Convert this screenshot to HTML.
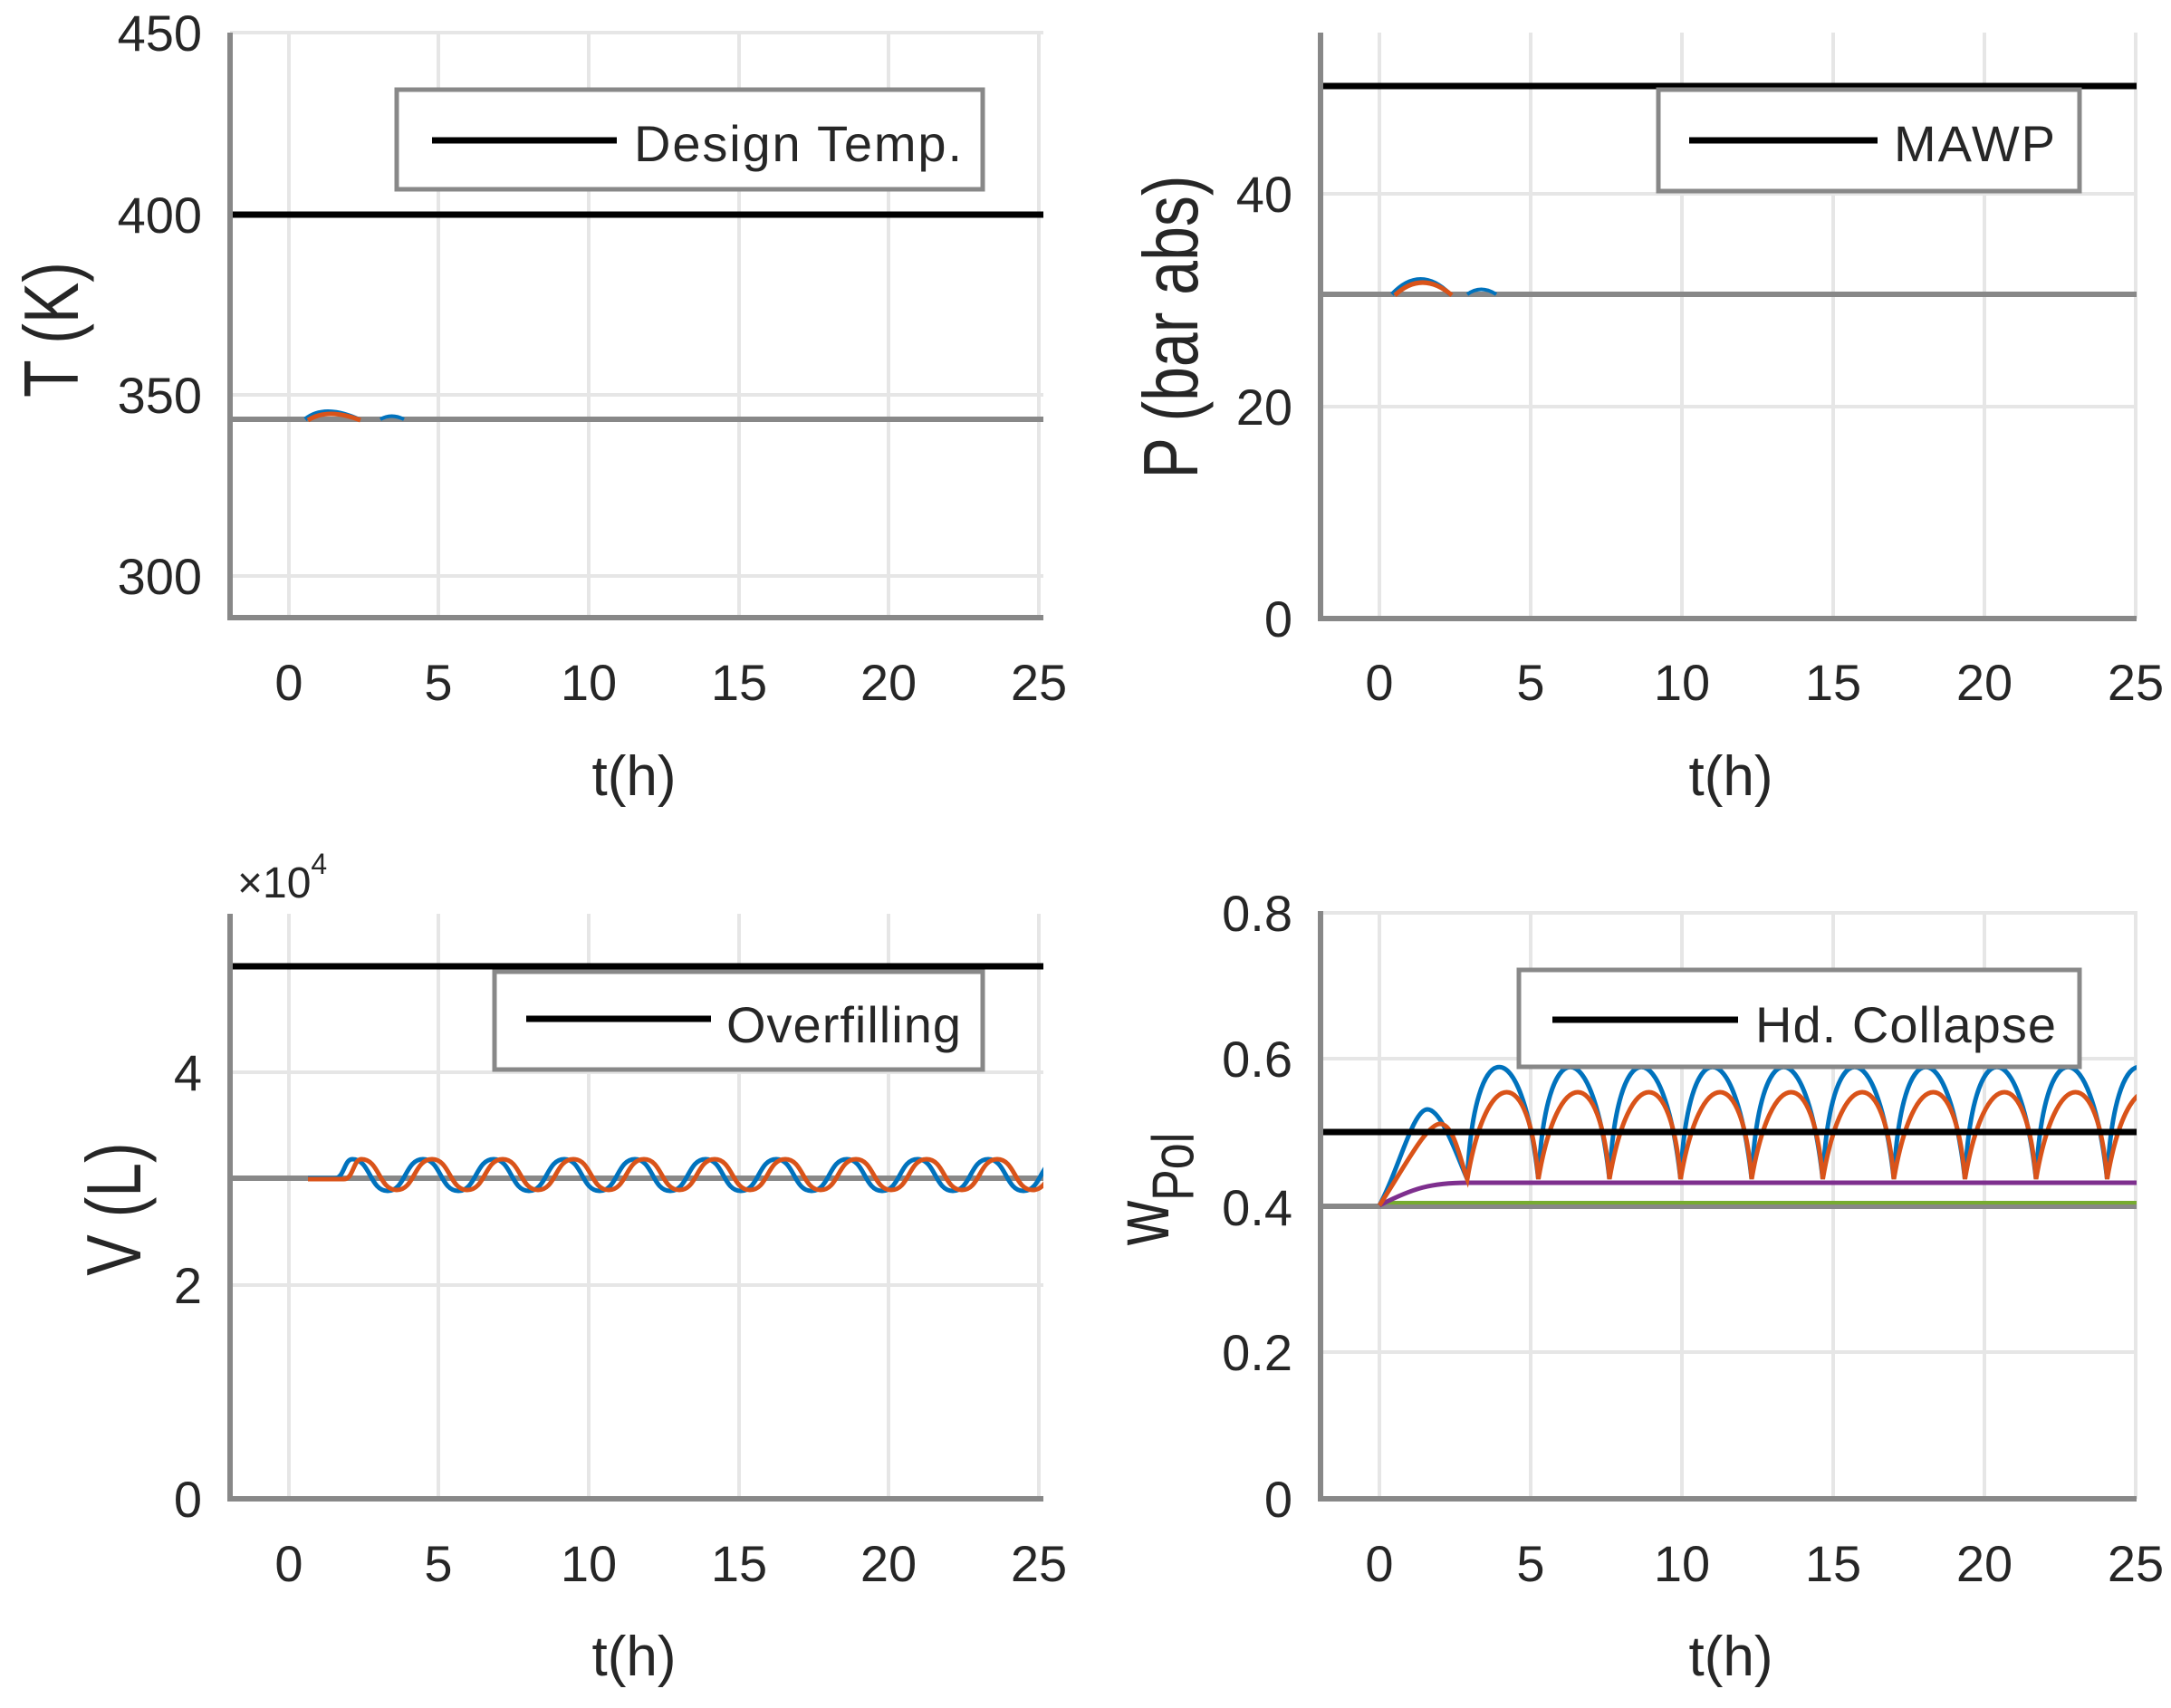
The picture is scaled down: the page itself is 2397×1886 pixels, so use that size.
<!DOCTYPE html>
<html><head><meta charset="utf-8"><style>
html,body{margin:0;padding:0;background:#fff;}
svg text{font-family:"Liberation Sans",sans-serif;fill:#262626;}
</style></head><body>
<svg width="2397" height="1881" viewBox="0 0 2397 1881" xmlns="http://www.w3.org/2000/svg">
<defs>
<clipPath id="c1"><rect x="254" y="36" width="898" height="646"/></clipPath>
<clipPath id="c2"><rect x="1458" y="36" width="901" height="647"/></clipPath>
<clipPath id="c3"><rect x="254" y="1009" width="898" height="646"/></clipPath>
<clipPath id="c4"><rect x="1458" y="1006" width="901" height="649"/></clipPath>
</defs>

<!-- ===== TL ===== -->
<g stroke="#e6e6e6" stroke-width="4">
<line x1="319" y1="36" x2="319" y2="682"/><line x1="484" y1="36" x2="484" y2="682"/><line x1="650" y1="36" x2="650" y2="682"/><line x1="816" y1="36" x2="816" y2="682"/><line x1="981" y1="36" x2="981" y2="682"/><line x1="1147" y1="36" x2="1147" y2="682"/>
<line x1="254" y1="36" x2="1152" y2="36"/><line x1="254" y1="237" x2="1152" y2="237"/><line x1="254" y1="436" x2="1152" y2="436"/><line x1="254" y1="636" x2="1152" y2="636"/>
</g>
<g clip-path="url(#c1)" fill="none">
<line x1="254" y1="463" x2="1152" y2="463" stroke="#888" stroke-width="6"/>
<path d="M337,463 Q358,446 396,463" stroke="#0072bd" stroke-width="5"/>
<path d="M340,464 Q362,450 398,464" stroke="#d95319" stroke-width="5"/>
<path d="M420,463 Q432,456 446,463" stroke="#0072bd" stroke-width="4"/>
<line x1="254" y1="237" x2="1152" y2="237" stroke="#000" stroke-width="7"/>
</g>
<g stroke="#888" stroke-width="6"><line x1="254" y1="36" x2="254" y2="685"/><line x1="251" y1="682" x2="1152" y2="682"/></g>
<rect x="438" y="99" width="647" height="110" fill="#fff" stroke="#888" stroke-width="5"/>
<line x1="477" y1="155" x2="681" y2="155" stroke="#000" stroke-width="7"/>
<text x="700" y="178" font-size="56" textLength="362">Design Temp.</text>
<g font-size="56" text-anchor="end"><text x="223" y="56">450</text><text x="223" y="257">400</text><text x="223" y="456">350</text><text x="223" y="656">300</text></g>
<g font-size="56" text-anchor="middle"><text x="319" y="773">0</text><text x="484" y="773">5</text><text x="650" y="773">10</text><text x="816" y="773">15</text><text x="981" y="773">20</text><text x="1147" y="773">25</text></g>
<text x="700" y="878" font-size="62" text-anchor="middle">t(h)</text>
<text transform="translate(86,364) rotate(-90) scale(1,1.25)" font-size="68" text-anchor="middle">T (K)</text>

<!-- ===== TR ===== -->
<g stroke="#e6e6e6" stroke-width="4">
<line x1="1523" y1="36" x2="1523" y2="683"/><line x1="1690" y1="36" x2="1690" y2="683"/><line x1="1857" y1="36" x2="1857" y2="683"/><line x1="2024" y1="36" x2="2024" y2="683"/><line x1="2191" y1="36" x2="2191" y2="683"/><line x1="2358" y1="36" x2="2358" y2="683"/>
<line x1="1458" y1="214" x2="2359" y2="214"/><line x1="1458" y1="449" x2="2359" y2="449"/>
</g>
<g clip-path="url(#c2)" fill="none">
<line x1="1458" y1="325" x2="2359" y2="325" stroke="#888" stroke-width="6"/>
<path d="M1537,325 Q1568,292 1601,325" stroke="#0072bd" stroke-width="5"/>
<path d="M1540,326 Q1570,298 1603,326" stroke="#d95319" stroke-width="5"/>
<path d="M1620,325 Q1635,314 1652,325" stroke="#0072bd" stroke-width="4"/>
<line x1="1458" y1="95" x2="2359" y2="95" stroke="#000" stroke-width="7"/>
</g>
<g stroke="#888" stroke-width="6"><line x1="1458" y1="36" x2="1458" y2="686"/><line x1="1455" y1="683" x2="2359" y2="683"/></g>
<rect x="1831" y="99" width="465" height="112" fill="#fff" stroke="#888" stroke-width="5"/>
<line x1="1865" y1="155" x2="2073" y2="155" stroke="#000" stroke-width="7"/>
<text x="2091" y="178" font-size="56" textLength="178">MAWP</text>
<g font-size="56" text-anchor="end"><text x="1427" y="234">40</text><text x="1427" y="469">20</text><text x="1427" y="703">0</text></g>
<g font-size="56" text-anchor="middle"><text x="1523" y="773">0</text><text x="1690" y="773">5</text><text x="1857" y="773">10</text><text x="2024" y="773">15</text><text x="2191" y="773">20</text><text x="2358" y="773">25</text></g>
<text x="1911" y="878" font-size="62" text-anchor="middle">t(h)</text>
<text transform="translate(1322,361) rotate(-90) scale(1,1.25)" font-size="68" text-anchor="middle">P (bar abs)</text>

<!-- ===== BL ===== -->
<g stroke="#e6e6e6" stroke-width="4">
<line x1="319" y1="1009" x2="319" y2="1655"/><line x1="484" y1="1009" x2="484" y2="1655"/><line x1="650" y1="1009" x2="650" y2="1655"/><line x1="816" y1="1009" x2="816" y2="1655"/><line x1="981" y1="1009" x2="981" y2="1655"/><line x1="1147" y1="1009" x2="1147" y2="1655"/>
<line x1="254" y1="1184" x2="1152" y2="1184"/><line x1="254" y1="1419" x2="1152" y2="1419"/>
</g>
<g clip-path="url(#c3)" fill="none">
<line x1="254" y1="1301" x2="1152" y2="1301" stroke="#888" stroke-width="6"/>
<path d="M340,1301 L370,1301 C380,1301 380,1280 389,1280 c20,0 19,35 39,35 s19,-35 39,-35 s19,35 39,35 s19,-35 39,-35 s19,35 39,35 s19,-35 39,-35 s19,35 39,35 s19,-35 39,-35 s19,35 39,35 s19,-35 39,-35 s19,35 39,35 s19,-35 39,-35 s19,35 39,35 s19,-35 39,-35 s19,35 39,35 s19,-35 39,-35 s19,35 39,35 s19,-35 39,-35 s19,35 39,35 s19,-35 39,-35 s19,35 39,35" stroke="#0072bd" stroke-width="5"/>
<path d="M340,1302 L380,1302 C390,1302 390,1280 399,1280 c20,0 19,34 39,34 s19,-34 39,-34 s19,34 39,34 s19,-34 39,-34 s19,34 39,34 s19,-34 39,-34 s19,34 39,34 s19,-34 39,-34 s19,34 39,34 s19,-34 39,-34 s19,34 39,34 s19,-34 39,-34 s19,34 39,34 s19,-34 39,-34 s19,34 39,34 s19,-34 39,-34 s19,34 39,34 s19,-34 39,-34 s19,34 39,34 s19,-34 39,-34 s19,34 39,34" stroke="#d95319" stroke-width="5"/>
<line x1="254" y1="1067" x2="1152" y2="1067" stroke="#000" stroke-width="7"/>
</g>
<g stroke="#888" stroke-width="6"><line x1="254" y1="1009" x2="254" y2="1658"/><line x1="251" y1="1655" x2="1152" y2="1655"/></g>
<rect x="546" y="1073" width="539" height="108" fill="#fff" stroke="#888" stroke-width="5"/>
<line x1="581" y1="1125" x2="785" y2="1125" stroke="#000" stroke-width="7"/>
<text x="802" y="1151" font-size="56" textLength="259">Overfilling</text>
<g font-size="56" text-anchor="end"><text x="223" y="1204">4</text><text x="223" y="1439">2</text><text x="223" y="1675">0</text></g>
<text x="262" y="991" font-size="48">×10<tspan font-size="32" dy="-26">4</tspan></text>
<g font-size="56" text-anchor="middle"><text x="319" y="1746">0</text><text x="484" y="1746">5</text><text x="650" y="1746">10</text><text x="816" y="1746">15</text><text x="981" y="1746">20</text><text x="1147" y="1746">25</text></g>
<text x="700" y="1850" font-size="62" text-anchor="middle">t(h)</text>
<text transform="translate(155,1335) rotate(-90) scale(1,1.25)" font-size="68" text-anchor="middle">V (L)</text>

<!-- ===== BR ===== -->
<g stroke="#e6e6e6" stroke-width="4">
<line x1="1523" y1="1006" x2="1523" y2="1655"/><line x1="1690" y1="1006" x2="1690" y2="1655"/><line x1="1857" y1="1006" x2="1857" y2="1655"/><line x1="2024" y1="1006" x2="2024" y2="1655"/><line x1="2191" y1="1006" x2="2191" y2="1655"/><line x1="2358" y1="1006" x2="2358" y2="1655"/>
<line x1="1458" y1="1008" x2="2359" y2="1008"/><line x1="1458" y1="1169" x2="2359" y2="1169"/><line x1="1458" y1="1493" x2="2359" y2="1493"/>
</g>
<g clip-path="url(#c4)" fill="none">
<line x1="1458" y1="1332" x2="2359" y2="1332" stroke="#888" stroke-width="6"/>
<line x1="1523" y1="1328" x2="2359" y2="1328" stroke="#77ac30" stroke-width="4"/>
<path d="M1523,1331 C1560,1312 1580,1306 1620,1306 L2359,1306" stroke="#7e2f8e" stroke-width="5"/>
<path d="M1523,1331 C1545,1290 1560,1225 1576,1225 C1592,1225 1610,1280 1620,1302 c8,-165 60,-165 78.5,0 c8,-165 60,-165 78.5,0 c8,-165 60,-165 78.5,0 c8,-165 60,-165 78.5,0 c8,-165 60,-165 78.5,0 c8,-165 60,-165 78.5,0 c8,-165 60,-165 78.5,0 c8,-165 60,-165 78.5,0 c8,-165 60,-165 78.5,0 c8,-165 60,-165 78.5,0" stroke="#0072bd" stroke-width="5"/>
<path d="M1523,1331 C1550,1290 1575,1241 1590,1241 C1605,1241 1612,1280 1620,1302 c22,-128 68,-128 78.5,0 c22,-128 68,-128 78.5,0 c22,-128 68,-128 78.5,0 c22,-128 68,-128 78.5,0 c22,-128 68,-128 78.5,0 c22,-128 68,-128 78.5,0 c22,-128 68,-128 78.5,0 c22,-128 68,-128 78.5,0 c22,-128 68,-128 78.5,0 c22,-128 68,-128 78.5,0" stroke="#d95319" stroke-width="5"/>
<line x1="1458" y1="1250" x2="2359" y2="1250" stroke="#000" stroke-width="7"/>
</g>
<g stroke="#888" stroke-width="6"><line x1="1458" y1="1006" x2="1458" y2="1658"/><line x1="1455" y1="1655" x2="2359" y2="1655"/></g>
<rect x="1677" y="1071" width="619" height="107" fill="#fff" stroke="#888" stroke-width="5"/>
<line x1="1714" y1="1126" x2="1919" y2="1126" stroke="#000" stroke-width="7"/>
<text x="1938" y="1151" font-size="56" textLength="332">Hd. Collapse</text>
<g font-size="56" text-anchor="end"><text x="1427" y="1028">0.8</text><text x="1427" y="1189">0.6</text><text x="1427" y="1353">0.4</text><text x="1427" y="1513">0.2</text><text x="1427" y="1675">0</text></g>
<g font-size="56" text-anchor="middle"><text x="1523" y="1746">0</text><text x="1690" y="1746">5</text><text x="1857" y="1746">10</text><text x="2024" y="1746">15</text><text x="2191" y="1746">20</text><text x="2358" y="1746">25</text></g>
<text x="1911" y="1850" font-size="62" text-anchor="middle">t(h)</text>
<text transform="translate(1290,1375) rotate(-90) scale(1,1.25)" font-size="68">w<tspan font-size="52" dy="22">Pol</tspan></text>
</svg>
</body></html>
